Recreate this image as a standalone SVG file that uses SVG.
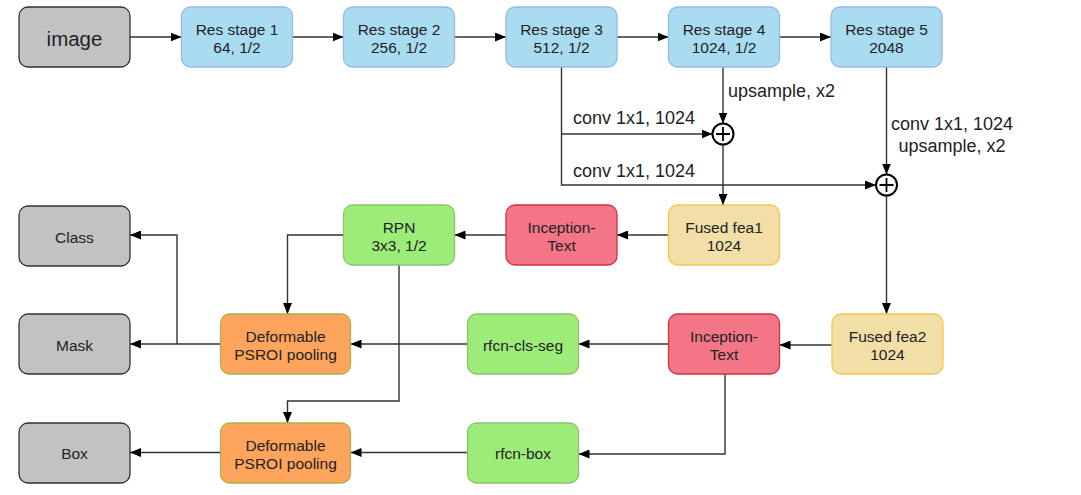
<svg xmlns="http://www.w3.org/2000/svg" width="1081" height="495" viewBox="0 0 1081 495">
<style>
.n rect{stroke-width:1.3}
.gray rect{fill:#c2c2c2;stroke:#333}
.blue rect{fill:#a9dcf0;stroke:#9ab6ea}
.green rect{fill:#9deb79;stroke:#8ec16a}
.yellow rect{fill:#f2dfa7;stroke:#f4c64c}
.red rect{fill:#f47686;stroke:#cf3242}
.orange rect{fill:#ffa45c;stroke:#a6b448}
text{font-family:"Liberation Sans",Arial,sans-serif;fill:#222;text-anchor:middle;dominant-baseline:central}
.t{font-size:15.5px}
.big{font-size:20.5px}
.lbl{font-size:18px;text-anchor:start}
.lblc{font-size:18px}
#connectors path{fill:none;stroke:#333;stroke-width:1.4}
.plus{fill:#fff;stroke:#000;stroke-width:2}
</style>
<defs>
<marker id="ah" markerUnits="userSpaceOnUse" markerWidth="12" markerHeight="9" refX="11" refY="4.5" orient="auto">
<path d="M0,0 L11,4.5 L0,9 z" fill="#000"/>
</marker>
</defs>
<rect width="1081" height="495" fill="#fff"/>

<g id="connectors">
<path d="M130,37 H181.5" marker-end="url(#ah)"/>
<path d="M292.5,37 H343.5" marker-end="url(#ah)"/>
<path d="M454.5,37 H506" marker-end="url(#ah)"/>
<path d="M617,37 H668.5" marker-end="url(#ah)"/>
<path d="M779.5,37 H831" marker-end="url(#ah)"/>
<path d="M561.5,67 V185 H876" marker-end="url(#ah)"/>
<path d="M561.5,134 H712.5" marker-end="url(#ah)"/>
<path d="M723,67 V123.5" marker-end="url(#ah)"/>
<path d="M723,144.5 V205" marker-end="url(#ah)"/>
<path d="M886.5,67 V174.5" marker-end="url(#ah)"/>
<path d="M886.5,195.5 V314" marker-end="url(#ah)"/>
<path d="M668.5,235 H617" marker-end="url(#ah)"/>
<path d="M506,235 H454.5" marker-end="url(#ah)"/>
<path d="M343.5,235 H287.5 V314" marker-end="url(#ah)"/>
<path d="M399,265 V401 H287.5 V423" marker-end="url(#ah)"/>
<path d="M467.5,344 H350.5" marker-end="url(#ah)"/>
<path d="M220.5,344 H130" marker-end="url(#ah)"/>
<path d="M177,344 V235 H130" marker-end="url(#ah)"/>
<path d="M467.5,452.5 H350.5" marker-end="url(#ah)"/>
<path d="M220.5,452.5 H130" marker-end="url(#ah)"/>
<path d="M832,345 H779.5" marker-end="url(#ah)"/>
<path d="M668.5,344 H578.5" marker-end="url(#ah)"/>
<path d="M725,374 V454 H578.5" marker-end="url(#ah)"/>
<g id="sum1"><circle class="plus" cx="723" cy="134" r="10.5"/><path d="M723,127 V141 M716,134 H730" style="stroke:#000;stroke-width:1.8"/></g>
<g id="sum2"><circle class="plus" cx="886.5" cy="185" r="10.5"/><path d="M886.5,178 V192 M879.5,185 H893.5" style="stroke:#000;stroke-width:1.8"/></g>
<text class="lbl" x="728" y="91">upsample, x2</text>
<text class="lbl" x="573" y="117.5">conv 1x1, 1024</text>
<text class="lbl" x="573" y="171">conv 1x1, 1024</text>
<text class="lblc" x="952" y="124">conv 1x1, 1024</text>
<text class="lblc" x="952" y="145.5">upsample, x2</text>
</g>

<g id="image" class="n gray"><rect x="19" y="7" width="111" height="60" rx="9"/><text class="big" x="74.5" y="38">image</text></g>
<g id="res1" class="n blue"><rect x="181.5" y="7" width="111" height="60" rx="9"/><text class="t" x="237" y="29.5">Res stage 1</text><text class="t" x="237" y="47.5">64, 1/2</text></g>
<g id="res2" class="n blue"><rect x="343.5" y="7" width="111" height="60" rx="9"/><text class="t" x="399" y="29.5">Res stage 2</text><text class="t" x="399" y="47.5">256, 1/2</text></g>
<g id="res3" class="n blue"><rect x="506" y="7" width="111" height="60" rx="9"/><text class="t" x="561.5" y="29.5">Res stage 3</text><text class="t" x="561.5" y="47.5">512, 1/2</text></g>
<g id="res4" class="n blue"><rect x="668.5" y="7" width="111" height="60" rx="9"/><text class="t" x="724" y="29.5">Res stage 4</text><text class="t" x="724" y="47.5">1024, 1/2</text></g>
<g id="res5" class="n blue"><rect x="831" y="7" width="111" height="60" rx="9"/><text class="t" x="886.5" y="29.5">Res stage 5</text><text class="t" x="886.5" y="47.5">2048</text></g>

<g id="class" class="n gray"><rect x="19" y="206" width="111" height="60" rx="9"/><text class="t" x="74.5" y="237">Class</text></g>
<g id="rpn" class="n green"><rect x="343.5" y="205" width="111" height="60" rx="9"/><text class="t" x="399" y="227">RPN</text><text class="t" x="399" y="245">3x3, 1/2</text></g>
<g id="inception1" class="n red"><rect x="506" y="205" width="111" height="60" rx="9"/><text class="t" x="561.5" y="227">Inception-</text><text class="t" x="561.5" y="245">Text</text></g>
<g id="fused1" class="n yellow"><rect x="668.5" y="205" width="111" height="60" rx="9"/><text class="t" x="724" y="227">Fused fea1</text><text class="t" x="724" y="245">1024</text></g>

<g id="mask" class="n gray"><rect x="19" y="314" width="111" height="60" rx="9"/><text class="t" x="74.5" y="345">Mask</text></g>
<g id="deform1" class="n orange"><rect x="220.5" y="314" width="130" height="60" rx="9"/><text class="t" x="285.5" y="336">Deformable</text><text class="t" x="285.5" y="354">PSROI pooling</text></g>
<g id="rfcn-cls-seg" class="n green"><rect x="467.5" y="314" width="111" height="60" rx="9"/><text class="t" x="523" y="345">rfcn-cls-seg</text></g>
<g id="inception2" class="n red"><rect x="668.5" y="314" width="111" height="60" rx="9"/><text class="t" x="724" y="336">Inception-</text><text class="t" x="724" y="354">Text</text></g>
<g id="fused2" class="n yellow"><rect x="832" y="314" width="111" height="60" rx="9"/><text class="t" x="887.5" y="336">Fused fea2</text><text class="t" x="887.5" y="354">1024</text></g>

<g id="box" class="n gray"><rect x="19" y="423" width="111" height="60" rx="9"/><text class="t" x="74.5" y="453.5">Box</text></g>
<g id="deform2" class="n orange"><rect x="220.5" y="423" width="130" height="60" rx="9"/><text class="t" x="285.5" y="445">Deformable</text><text class="t" x="285.5" y="463">PSROI pooling</text></g>
<g id="rfcn-box" class="n green"><rect x="467.5" y="423" width="111" height="60" rx="9"/><text class="t" x="523" y="453.5">rfcn-box</text></g>
</svg>
